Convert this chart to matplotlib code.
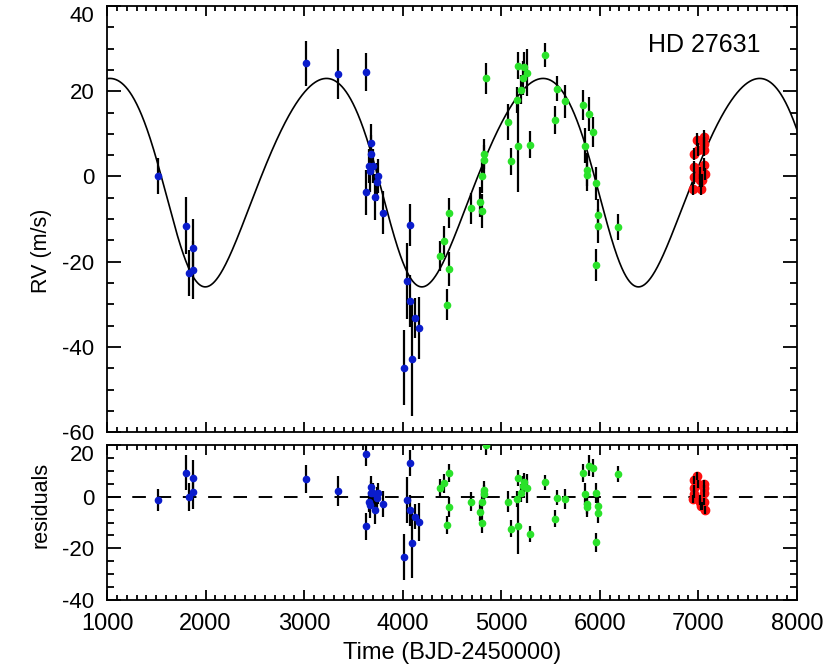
import numpy as np
import matplotlib.pyplot as plt
from matplotlib.ticker import MultipleLocator

plt.rcParams['font.family'] = ['Liberation Sans', 'DejaVu Sans']
plt.rcParams['axes.unicode_minus'] = False

# blue data set (time, rv, error, residual)
blue_t = [1514, 1801, 1835, 1875, 1875, 3018, 3340, 3627, 3677, 3677, 3660, 3700,
          3668, 3745, 3735, 3627, 3721, 3796, 4012, 4039, 4073, 4073, 4096, 4124, 4164]
blue_rv = [0.1, -11.5, -22.7, -22.0, -16.8, 26.6, 24.0, 24.5, 7.8, 5.2, 2.4, 2.4,
           1.3, 0.1, -1.3, -3.7, -4.8, -8.5, -44.9, -24.5, -11.4, -29.2, -42.7, -33.1, -35.6]
blue_err = [4.3, 6.7, 5.4, 6.8, 6.8, 5.3, 5.9, 4.5, 4.5, 4.5, 4.0, 4.0,
            5.0, 4.0, 4.5, 5.3, 5.3, 5.1, 8.8, 8.9, 5.0, 6.0, 13.5, 4.7, 7.3]
blue_res = [-1.3, 9.3, 0.0, 1.9, 7.4, 6.9, 2.1, 16.5, 3.6, 1.4, -2.1, 1.3,
            -3.2, 1.3, -0.6, -11.5, -5.2, -2.8, -23.3, -1.3, 12.9, -5.2, -17.8, -7.7, -9.7]

# green data set
green_t = [4445, 4377, 4421, 4472, 4472, 4692, 4783, 4810, 4810, 4827, 4827, 4841,
           5070, 5097, 5165, 5172, 5172, 5206, 5223, 5233, 5257, 5293, 5445, 5551,
           5567, 5648, 5831, 5889, 5932, 5848, 5875, 5875, 5960, 5983, 5983, 5960, 6189]
green_rv = [-30.1, -18.6, -15.2, -8.5, -21.7, -7.5, -6.0, -8.2, 0.1, 5.3, 3.9, 23.0,
            12.8, 3.6, 18.0, 7.1, 26.0, 20.4, 23.2, 25.7, 24.3, 7.5, 28.5, 13.2,
            20.6, 17.6, 16.7, 14.6, 10.4, 7.2, 1.6, 0.3, -1.6, -9.0, -11.6, -20.8, -11.8]
green_err = [3.6, 3.5, 3.7, 3.5, 3.9, 3.6, 3.6, 4.0, 4.0, 3.5, 3.5, 3.7,
             4.2, 3.2, 3.1, 10.8, 3.1, 3.5, 4.0, 3.5, 5.5, 3.1, 2.9, 3.3,
             2.9, 3.8, 3.5, 4.0, 3.5, 4.1, 3.8, 3.8, 3.9, 3.8, 4.0, 3.7, 3.1]
green_res = [-11.0, 3.5, 5.2, 9.3, -4.1, -1.9, -5.9, -10.1, -1.9, 2.6, 1.0, 20.0,
             -1.9, -12.4, -1.0, -11.3, 7.4, 1.3, 4.1, 5.5, 3.2, -14.4, 5.6, -8.5,
             -0.5, -0.9, 9.0, 12.0, 11.2, 1.0, -3.0, -3.9, 1.3, -3.6, -6.2, -17.7, 8.7]

# red data set
red_t = [6946, 6960, 6960, 6960, 6987, 6997, 7014, 7014, 7024, 7041, 7055, 7055, 7058, 7055, 7065]
red_rv = [-2.9, -0.2, 2.2, 5.3, 8.6, 6.3, 0.8, -0.9, -2.9, -0.9, 9.3, 7.7, 6.3, 2.8, 0.6]
red_err = [1.5] * 15
red_res = [-1.0, 1.0, 3.2, 6.5, 8.0, 4.9, -1.0, -1.9, -3.6, -3.6, 4.9, 3.2, 1.5, -1.9, -5.2]

# Keplerian orbit
P, K, ecc, omega, Tp, gamma = 2198.0, 24.45, 0.13, np.radians(134.0), 1777.0, 0.76


def kepler_rv(t):
    M = 2 * np.pi * (t - Tp) / P
    E = M.copy()
    for _ in range(50):
        E = E - (E - ecc * np.sin(E) - M) / (1 - ecc * np.cos(E))
    nu = 2 * np.arctan2(np.sqrt(1 + ecc) * np.sin(E / 2), np.sqrt(1 - ecc) * np.cos(E / 2))
    return gamma + K * (np.cos(nu + omega) + ecc * np.cos(omega))


tm = np.linspace(1000, 8000, 2000)

blue = '#0a1ccc'
green = '#2ae22a'
red = '#ff1010'

fig = plt.figure(figsize=(8.3, 6.64), dpi=100)
ax1 = fig.add_axes([0.129, 0.349, 0.831, 0.642])
ax2 = fig.add_axes([0.129, 0.0964, 0.831, 0.2334])

ax1.plot(tm, kepler_rv(tm), color='black', lw=1.2, zorder=1)
for t, v, e, c in [(blue_t, blue_rv, blue_err, blue), (green_t, green_rv, green_err, green)]:
    ax1.errorbar(t, v, yerr=e, fmt='none', ecolor='black', elinewidth=1.6, capsize=0, zorder=2)
    ax1.plot(t, v, 'o', color=c, ms=4.5, mec=c, zorder=3)
ax1.plot(red_t, red_rv, 'o', color=red, ms=6, mec=red, zorder=3)
ax1.errorbar(red_t, red_rv, yerr=red_err, fmt='none', ecolor='black', elinewidth=1.6, capsize=0, zorder=4)

ax2.axhline(0, color='black', lw=1.4, ls=(0, (7, 6)), zorder=1)
for t, r, e, c in [(blue_t, blue_res, blue_err, blue), (green_t, green_res, green_err, green)]:
    ax2.errorbar(t, r, yerr=e, fmt='none', ecolor='black', elinewidth=1.6, capsize=0, zorder=2)
    ax2.plot(t, r, 'o', color=c, ms=4.5, mec=c, zorder=3)
ax2.plot(red_t, red_res, 'o', color=red, ms=6, mec=red, zorder=3)
ax2.errorbar(red_t, red_res, yerr=red_err, fmt='none', ecolor='black', elinewidth=1.6, capsize=0, zorder=4)

ax1.set_xlim(1000, 8000)
ax1.set_ylim(-60, 40)
ax2.set_xlim(1000, 8000)
ax2.set_ylim(-40, 20)
ax1.set_yticks([-60, -40, -20, 0, 20, 40])
ax2.set_yticks([-40, -20, 0, 20])

for ax in (ax1, ax2):
    ax.xaxis.set_major_locator(MultipleLocator(1000))
    ax.xaxis.set_minor_locator(MultipleLocator(100))
    ax.yaxis.set_minor_locator(MultipleLocator(5))
    ax.tick_params(which='both', direction='in', top=True, right=True, width=1.3)
    ax.tick_params(axis='x', which='major', length=7, pad=9.5, labelsize=17)
    ax.tick_params(axis='x', which='minor', length=3.5)
    ax.tick_params(axis='y', which='major', length=10, pad=9, labelsize=16)
    ax.tick_params(axis='y', which='minor', length=5)
    for s in ax.spines.values():
        s.set_linewidth(1.3)
    # top label sits just under the frame, as in the original
    ax.get_yticklabels()[-1].set_va('top')

ax1.tick_params(axis='x', labelbottom=False)

ax1.set_ylabel('RV (m/s)', fontsize=15.5)
ax1.yaxis.set_label_coords(-0.08, 0.425)
ax2.set_ylabel('residuals', fontsize=15.5)
ax2.yaxis.set_label_coords(-0.08, 0.613)
ax2.set_xlabel('Time (BJD-2450000)', fontsize=17)
ax2.xaxis.set_label_coords(0.5, -0.268)

ax1.text(6490, 30.8, 'HD 27631', fontsize=18, ha='left', va='center')

fig.savefig('out.png', dpi=100)
